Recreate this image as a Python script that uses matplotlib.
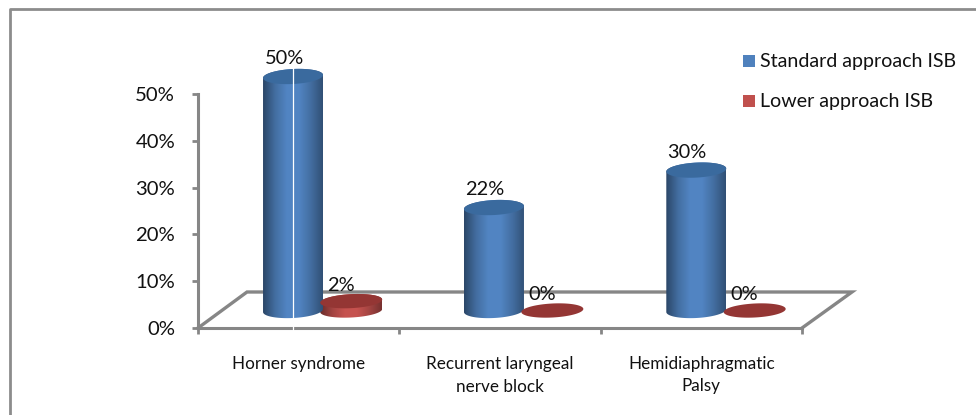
import numpy as np
import matplotlib
matplotlib.use("Agg")
import matplotlib.pyplot as plt
from matplotlib.colors import LinearSegmentedColormap
from matplotlib.lines import Line2D
from matplotlib.patches import Polygon, Rectangle

categories = ["Horner syndrome", "Recurrent laryngeal\nnerve block", "Hemidiaphragmatic\nPalsy"]
series_names = ["Standard approach ISB", "Lower approach ISB"]
standard = [50, 22, 30]
lower = [2, 0, 0]
yticks = [0, 10, 20, 30, 40, 50]

plt.rcParams["font.family"] = ["Lato", "DejaVu Sans"]
W, H = 976, 415
fig = plt.figure(figsize=(W / 100, H / 100), dpi=100)
L, R, T, B = 198, 802, 94, 328
ax = fig.add_axes([L / W, 1 - B / H, (R - L) / W, (B - T) / H])
ax.set_facecolor("none")
ax.set_xlim(0, 3)
ax.set_ylim(0, 50)
px_x = 3 / (R - L)
px_y = 50 / (B - T)
GRAY = "#868686"

for s in ("top", "right"):
    ax.spines[s].set_visible(False)
for s in ("left", "bottom"):
    ax.spines[s].set_color(GRAY)
    ax.spines[s].set_linewidth(2.2)
ax.set_yticks(yticks)
ax.set_yticklabels([f"{v}%" for v in yticks], fontsize=14.6, color="#111111")
for lab in ax.get_yticklabels():
    lab.set_y(lab.get_position()[1])
ax.set_xticks([0, 1, 2, 3])
ax.set_xticklabels([])
ax.tick_params(axis="both", color=GRAY, width=2, length=4.5)
ax.tick_params(axis="y", pad=12)

# floor
floor_x = [0, 49 * px_x, 654 * px_x, 604 * px_x]
floor_y = [0, 36 * px_y, 36 * px_y, 0]
ax.plot(floor_x, floor_y, color=GRAY, lw=2.4, clip_on=False, zorder=1, solid_joinstyle="miter")

for i, c in enumerate(categories):
    ax.text(i + 0.5, -28 * px_y, c, ha="center", va="top", fontsize=12.3, color="#111111",
            linespacing=1.5, clip_on=False)


def shade(base):
    base = np.array(matplotlib.colors.to_rgb(base))
    return LinearSegmentedColormap.from_list(
        "c", [base * 0.55, base * 0.85, base * 1.03, base * 1.03, base * 0.85, base * 0.62])


def cylinder(xc, val, base, top, hw=30, hh=7.5):
    hw_d, hh_d = hw * px_x, hh * px_y
    y0 = 17.5 * px_y
    y1 = y0 + val
    tilt = 0.05 * (px_y / px_x)
    t = np.linspace(np.pi, 2 * np.pi, 60)
    bx = xc + hw_d * np.cos(t)
    by = y0 + hh_d * np.sin(t) + tilt * (bx - xc)
    t2 = t - np.pi
    tx = xc + hw_d * np.cos(t2)
    ty = y1 + hh_d * np.sin(t2) + tilt * (tx - xc)
    if val > 0:
        poly = Polygon(np.c_[np.r_[bx, tx], np.r_[by, ty]], closed=True,
                       transform=ax.transData, fc="none", ec="none")
        ax.add_patch(poly)
        im = ax.imshow(np.linspace(0, 1, 200)[None, :], cmap=shade(base), aspect="auto",
                       extent=[xc - hw_d, xc + hw_d, y0 - hh_d * 1.5, y1 + hh_d * 1.5], zorder=3)
        im.set_clip_box(fig.bbox)
        im.set_clip_path(poly)
    tc = np.linspace(0, 2 * np.pi, 100)
    ex = xc + hw_d * np.cos(tc)
    ey = y1 + hh_d * np.sin(tc) + tilt * (ex - xc)
    ax.add_patch(Polygon(np.c_[ex, ey], closed=True, fc=top, ec="none", zorder=4, clip_on=False))


x_std = [0.472, 1.47, 2.475]
x_low = [0.761, 1.76, 2.765]
for i in range(3):
    cylinder(x_low[i], lower[i], "#C0504D", "#943634", hw=31, hh=7)
    cylinder(x_std[i], standard[i], "#4F81BD", "#3A6A9E")
    ax.text(x_std[i] - 0.045, standard[i] + 27 * px_y, f"{standard[i]}%", ha="center", va="bottom",
            fontsize=14.4, color="#111111", clip_on=False, zorder=6)
    ax.text(x_low[i] - 0.05, lower[i] + 25 * px_y, f"{lower[i]}%", ha="center", va="bottom",
            fontsize=14.4, color="#111111", clip_on=False, zorder=6)
ax.set_xlim(0, 3)
ax.set_ylim(0, 50)

# white highlight line on first column, running through the top ellipse
ax.plot([x_std[0]] * 2, [-1, standard[0] + 25.5 * px_y], color="white", lw=0.9, clip_on=False, zorder=5)

# frame: only top and left edges are visible in the crop
fig.add_artist(Line2D([9.5 / W, 9.5 / W, 1], [0, 1 - 9 / H, 1 - 9 / H],
                      color="#8C8C8C", lw=2))

# legend
for name, col, yp in zip(series_names, ["#4F81BD", "#C0504D"], [61, 101]):
    fig.add_artist(Rectangle((743 / W, 1 - (yp + 6) / H), 12 / W, 12 / H, fc=col, ec="none",
                             transform=fig.transFigure))
    fig.text(760 / W, 1 - (yp + 0.5) / H, name, ha="left", va="center", fontsize=14.1, color="#111111")

fig.savefig("out.png", dpi=100)
